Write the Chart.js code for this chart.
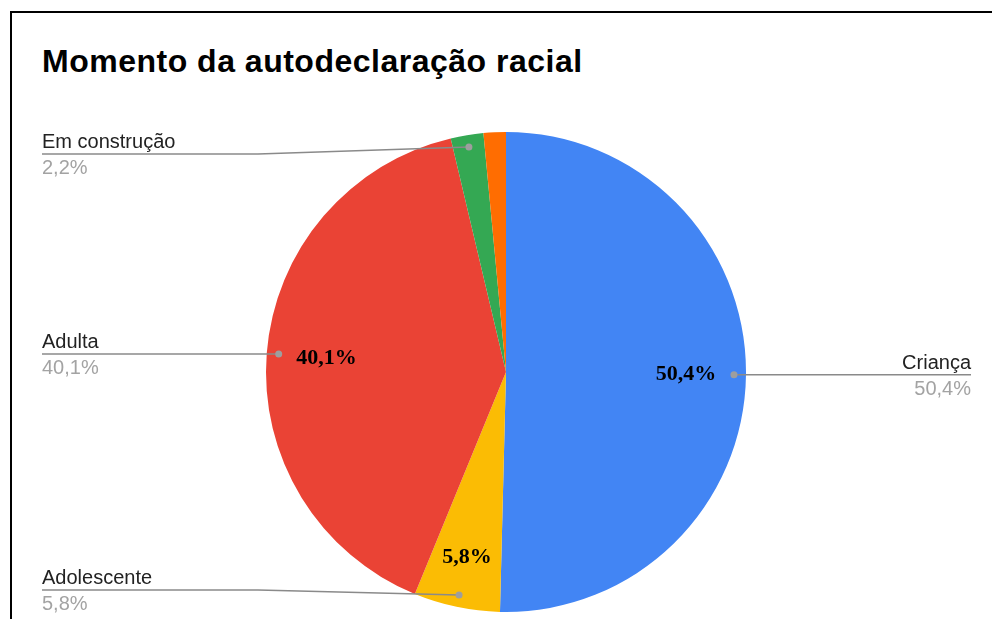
<!DOCTYPE html>
<html lang="pt-BR">
<head>
<meta charset="UTF-8">
<title>Momento da autodeclaração racial</title>
<script src="https://cdn.jsdelivr.net/npm/chart.js"></script>
<style>
  body { margin: 0; background: #fff; overflow: hidden; }
  #frame { position: absolute; left: 10px; top: 11px; width: 1100px; height: 800px; border: 2px solid #000; }
  #title { position: absolute; left: 42px; top: 43px; margin: 0; line-height: 32px; letter-spacing: 0.5px;
           font: bold 32px "Liberation Sans", Arial, sans-serif; color: #000; white-space: nowrap; }
  #chart { position: absolute; left: 0; top: 0; }
</style>
</head>
<body>
<div id="frame"></div>
<h1 id="title">Momento da autodeclaração racial</h1>
<canvas id="chart" width="992" height="619"></canvas>

<script>
// pie data (percent of respondents)
const categories = ['Criança', 'Adolescente', 'Adulta', 'Em construção', 'Outro'];
const percentages = [50.4, 5.8, 40.1, 2.2, 1.5];

const sliceColors = ['#4285F4', '#FBBC04', '#EA4335', '#34A853', '#FF6D01'];

function fmt(v) {
    return v.toFixed(1).replace('.', ',') + '%';
}

// draws the percentages inside the slices and the leader-line labels outside
const sliceLabels = {
    id: 'sliceLabels',
    afterDatasetsDraw(chart) {
        const ctx = chart.ctx;
        const area = chart.chartArea;
        const arcs = chart.getDatasetMeta(0).data;
        const minY = area.top + 22, maxY = area.bottom - 22;

        arcs.forEach((arc, i) => {
            const p = arc.getProps(['x', 'y', 'outerRadius', 'startAngle', 'endAngle'], true);
            const mid = (p.startAngle + p.endAngle) / 2;
            const cos = Math.cos(mid), sin = Math.sin(mid);
            const value = percentages[i];

            ctx.save();
            if (value >= 5) {
                const k = value < 10 ? 0.79 : 0.75;
                ctx.font = 'bold 22px "Liberation Serif", "Times New Roman", serif';
                ctx.fillStyle = '#000';
                ctx.textAlign = 'center';
                ctx.textBaseline = 'middle';
                ctx.fillText(fmt(value), p.x + cos * p.outerRadius * k, p.y + sin * p.outerRadius * k);
            }

            if (value >= 2) {
                const dx = p.x + cos * p.outerRadius * 0.95;
                const dy = p.y + sin * p.outerRadius * 0.95;
                const lineY = Math.min(maxY, Math.max(minY, dy));
                const right = cos >= 0;
                const textX = right ? 971 : 42;
                const elbowX = right ? 754 : 258;

                ctx.strokeStyle = '#8a8a8a';
                ctx.lineWidth = 1.5;
                ctx.beginPath();
                ctx.moveTo(dx, dy);
                if (Math.abs(lineY - dy) > 0.5) ctx.lineTo(elbowX, lineY);
                ctx.lineTo(textX, lineY);
                ctx.stroke();

                ctx.fillStyle = '#9e9e9e';
                ctx.beginPath();
                ctx.arc(dx, dy, 3.5, 0, Math.PI * 2);
                ctx.fill();

                ctx.font = '20px "Liberation Sans", Arial, sans-serif';
                ctx.textAlign = right ? 'right' : 'left';
                ctx.textBaseline = 'alphabetic';
                ctx.fillStyle = '#222';
                ctx.fillText(categories[i], textX, lineY - 6);
                ctx.fillStyle = '#a3a3a3';
                ctx.fillText(fmt(value), textX, lineY + 20);
            }
            ctx.restore();
        });
    }
};

new Chart(document.getElementById('chart'), {
    type: 'pie',
    data: {
        labels: categories,
        datasets: [{
            data: percentages,
            backgroundColor: sliceColors,
            borderWidth: 0,
            offset: 0,
            hoverOffset: 0
        }]
    },
    options: {
        responsive: false,
        animation: false,
        layout: { padding: { top: 132, bottom: 7, left: 266, right: 246 } },
        plugins: {
            legend: { display: false },
            tooltip: { enabled: false },
            title: { display: false }
        }
    },
    plugins: [sliceLabels]
});
</script>
</body>
</html>
